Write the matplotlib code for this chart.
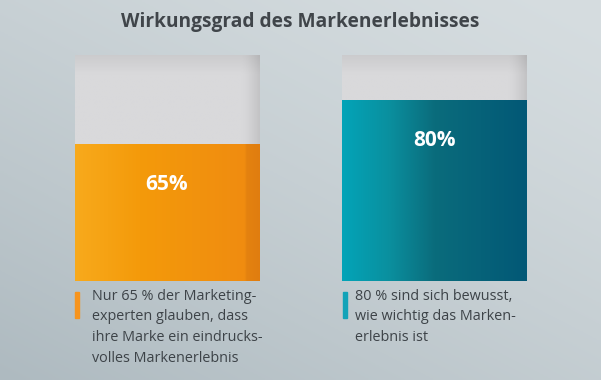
import numpy as np
import matplotlib
matplotlib.use("Agg")
import matplotlib.pyplot as plt
from matplotlib.colors import LinearSegmentedColormap, to_rgb
from matplotlib.patches import Rectangle

plt.rcParams['font.family'] = ['Open Sans', 'DejaVu Sans']

# data
title = "Wirkungsgrad des Markenerlebnisses"
value_labels = ["65%", "80%"]
fill_levels = [60.5, 80]          # visible fill height of each bar (% of box)
captions = [
    "Nur 65 % der Marketing-\nexperten glauben, dass\nihre Marke ein eindrucks-\nvolles Markenerlebnis",
    "80 % sind sich bewusst,\nwie wichtig das Marken-\nerlebnis ist",
]
bar_stops = [
    [(0.0, "#f8aa1c"), (0.35, "#f49a0a"), (0.92, "#f08c10"), (0.93, "#e4820f"), (1.0, "#e07d10")],
    [(0.0, "#03a4b8"), (0.25, "#0a909f"), (0.5, "#0a6c7c"), (1.0, "#025876")],
]
marker_colors = ["#f7941d", "#12a3b8"]

W, H = 601, 380
fig = plt.figure(figsize=(W / 100, H / 100), dpi=100)

# background gradient
bg = fig.add_axes([0, 0, 1, 1])
bg.set_axis_off()
yy, xx = np.mgrid[0:1:200j, 0:1:300j]
t = np.clip(0.55 * yy + 0.45 * (1 - xx), 0, 1) ** 1.3
c1 = np.array(to_rgb("#d6dde0"))
c2 = np.array(to_rgb("#aebac0"))
img = c1[None, None, :] * (1 - t[..., None]) + c2[None, None, :] * t[..., None]
bg.imshow(img, extent=[0, 1, 0, 1], aspect="auto", origin="upper")
bg.set_xlim(0, 1)
bg.set_ylim(0, 1)

# bar axes: pixel x 0..601, bars box from y=55 to y=281
ax = fig.add_axes([0, (H - 281) / H, 1, 226 / H])
ax.set_axis_off()
ax.set_xlim(-167 / 267.5, (W - 167) / 267.5)
ax.set_ylim(0, 100)
ax.patch.set_alpha(0)

x = np.arange(2)
width = 0.69

# grey boxes with a slight shadow on top and right
box_bars = ax.bar(x, [100, 100], width=width, color="#d8d8da", zorder=1)
gy, gx = np.mgrid[0:1:120j, 0:1:120j]
shade = np.clip((gx - 0.9) / 0.1, 0, 1) ** 1.5 * 0.1 + np.clip((0.08 - gy) / 0.08, 0, 1) * 0.06
gray = np.array(to_rgb("#d9d9db"))
gimg = np.clip(gray[None, None, :] * (1 - shade[..., None]), 0, 1)
for b in box_bars:
    im = ax.imshow(gimg, extent=[b.get_x(), b.get_x() + b.get_width(), 0, 100],
                   aspect="auto", origin="upper", zorder=1.5)
    im.set_clip_path(b)

# gradient fills
fill_bars = ax.bar(x, fill_levels, width=width, color="none", zorder=2)
for b, stops in zip(fill_bars, bar_stops):
    cmap = LinearSegmentedColormap.from_list("g", stops)
    grad = np.linspace(0, 1, 256)[None, :]
    im = ax.imshow(grad, cmap=cmap, extent=[b.get_x(), b.get_x() + b.get_width(), 0, b.get_height()],
                   aspect="auto", zorder=2.5)
    im.set_clip_path(b)

for xi, lvl, lab in zip(x, fill_levels, value_labels):
    ax.text(xi, lvl - 18, lab, ha="center", va="center", color="white",
            fontsize=15, fontweight="bold", zorder=4)

# title
fig.text(0.5, 1 - 22 / H, title, ha="center", va="center", fontsize=13.8,
         fontweight="bold", color="#40454a")

# captions with coloured markers
for px_marker, px_text, cap, mc in zip([75, 343], [92, 355], captions, marker_colors):
    fig.patches.append(Rectangle((px_marker / W, (H - 318) / H), 3.5 / W, 26 / H,
                                 transform=fig.transFigure, color=mc))
    fig.text(px_text / W, (H - 289) / H, cap, ha="left", va="top", fontsize=10.4,
             color="#3d4348", linespacing=1.5)

fig.savefig("out.png", dpi=100)
